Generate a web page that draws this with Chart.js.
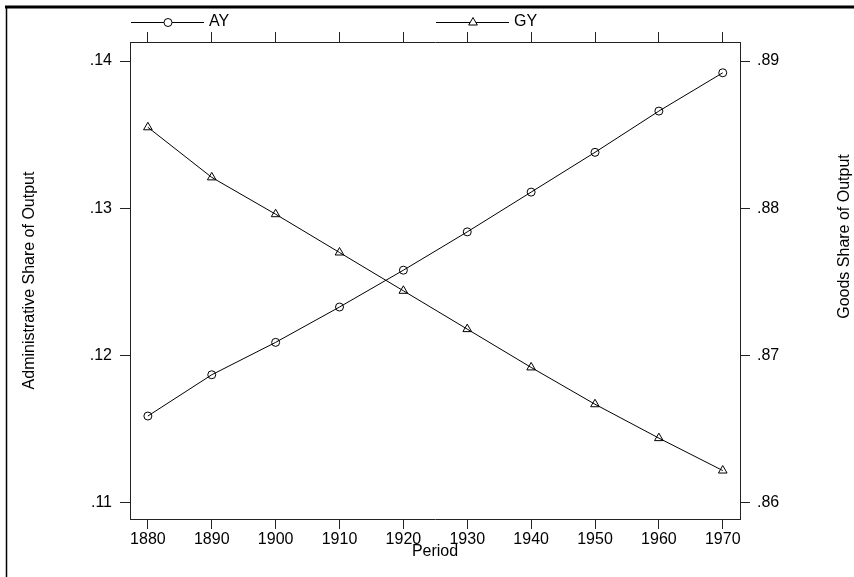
<!DOCTYPE html>
<html>
<head>
<meta charset="utf-8">
<script src="https://cdn.jsdelivr.net/npm/chart.js@4"></script>
<style>
  html, body { margin: 0; padding: 0; background: #fff; }
  #wrap { position: relative; width: 854px; height: 577px; }
</style>
</head>
<body>
<div id="wrap"><canvas id="grafico" width="854" height="577"></canvas></div>
<script>
// datos
const periodos = [1880, 1890, 1900, 1910, 1920, 1930, 1940, 1950, 1960, 1970];
const valoresAY = [0.1159, 0.1187, 0.1209, 0.1233, 0.1258, 0.1284, 0.1311, 0.1338, 0.1366, 0.1392];
const valoresGY = [0.8855, 0.8821, 0.8796, 0.8770, 0.8744, 0.8718, 0.8692, 0.8667, 0.8644, 0.8622];
const ticksIzq = [0.11, 0.12, 0.13, 0.14];
const ticksDer = [0.86, 0.87, 0.88, 0.89];
const ticksX = [1880, 1890, 1900, 1910, 1920, 1930, 1940, 1950, 1960, 1970];
const etiquetas = ["AY", "GY"];
const tituloIzq = "Administrative Share of Output";
const tituloDer = "Goods Share of Output";
const tituloX = "Period";

const fuente = "'Liberation Sans', Arial, Helvetica, sans-serif";
const negro = "#000";
const ejeColor = "#222";

function fmtDec(v) {
    return v.toFixed(2).replace(/^0/, "");
}

function ticksFijos(lista) {
    return function (scale) {
        scale.ticks = lista.map(v => ({ value: v }));
    };
}

const rejilla = {
    drawOnChartArea: false,
    drawTicks: true,
    tickLength: 10,
    color: ejeColor,
    lineWidth: 1
};
const borde = { display: true, color: ejeColor, width: 1 };

// marco, leyenda y títulos de ejes
const extras = {
    id: "extras",
    afterDraw(chart) {
        const ctx = chart.ctx;
        const area = chart.chartArea;
        ctx.save();

        // marco exterior
        ctx.strokeStyle = negro;
        ctx.lineWidth = 3;
        ctx.beginPath();
        ctx.moveTo(5, 7);
        ctx.lineTo(854, 7);
        ctx.stroke();
        ctx.lineWidth = 1.5;
        ctx.beginPath();
        ctx.moveTo(6.5, 6);
        ctx.lineTo(6.5, 577);
        ctx.stroke();

        // leyenda
        const yLeyenda = 22.5;
        const anchoCol = area.width / 2;
        chart.data.datasets.forEach((ds, i) => {
            const x0 = area.left + i * anchoCol + 1;
            ctx.strokeStyle = negro;
            ctx.lineWidth = 1;
            ctx.beginPath();
            ctx.moveTo(x0, yLeyenda);
            ctx.lineTo(x0 + 73, yLeyenda);
            ctx.stroke();
            const cx = x0 + 37;
            ctx.beginPath();
            if (ds.pointStyle === "circle") {
                ctx.arc(cx, yLeyenda, ds.pointRadius, 0, Math.PI * 2);
            } else {
                const r = ds.pointRadius;
                ctx.moveTo(cx, yLeyenda - r);
                ctx.lineTo(cx + r * 0.866, yLeyenda + r / 2);
                ctx.lineTo(cx - r * 0.866, yLeyenda + r / 2);
                ctx.closePath();
            }
            ctx.fillStyle = "#fff";
            ctx.fill();
            ctx.stroke();
            ctx.fillStyle = negro;
            ctx.font = "16px " + fuente;
            ctx.textAlign = "left";
            ctx.textBaseline = "middle";
            ctx.fillText(ds.label, x0 + 78, yLeyenda - 1);
        });

        // títulos
        ctx.fillStyle = negro;
        ctx.font = "16px " + fuente;
        ctx.textAlign = "center";
        ctx.textBaseline = "middle";
        ctx.fillText(tituloX, (area.left + area.right) / 2, 552);

        const yMedio = (area.top + area.bottom) / 2;
        ctx.save();
        ctx.translate(30, yMedio);
        ctx.rotate(-Math.PI / 2);
        ctx.fillText(tituloIzq, 0, 0);
        ctx.restore();

        ctx.save();
        ctx.translate(845, yMedio - 44);
        ctx.rotate(-Math.PI / 2);
        ctx.fillText(tituloDer, 0, 0);
        ctx.restore();

        ctx.restore();
    }
};

const ctx = document.getElementById("grafico").getContext("2d");

new Chart(ctx, {
    type: "line",
    data: {
        datasets: [
            {
                label: etiquetas[0],
                data: periodos.map((p, i) => ({ x: p, y: valoresAY[i] })),
                xAxisID: "x",
                yAxisID: "yIzq",
                borderColor: negro,
                borderWidth: 1,
                pointStyle: "circle",
                pointRadius: 4,
                pointBorderWidth: 1,
                pointBorderColor: negro,
                pointBackgroundColor: "rgba(0,0,0,0)",
                tension: 0,
                fill: false
            },
            {
                label: etiquetas[1],
                data: periodos.map((p, i) => ({ x: p, y: valoresGY[i] })),
                xAxisID: "x",
                yAxisID: "yDer",
                borderColor: negro,
                borderWidth: 1,
                pointStyle: "triangle",
                pointRadius: 5,
                pointBorderWidth: 1,
                pointBorderColor: negro,
                pointBackgroundColor: "rgba(0,0,0,0)",
                tension: 0,
                fill: false
            }
        ]
    },
    options: {
        responsive: false,
        devicePixelRatio: 1,
        animation: false,
        layout: { padding: 0 },
        plugins: {
            legend: { display: false },
            tooltip: { enabled: false }
        },
        scales: {
            x: {
                type: "linear",
                position: "bottom",
                min: 1877.2,
                max: 1972.7,
                afterBuildTicks: ticksFijos(ticksX),
                afterFit(scale) { scale.height = 58; },
                grid: rejilla,
                border: borde,
                ticks: {
                    color: negro,
                    padding: 1,
                    maxRotation: 0,
                    autoSkip: false,
                    font: { family: fuente, size: 16 },
                    callback: v => String(v)
                }
            },
            xArriba: {
                type: "linear",
                position: "top",
                min: 1877.2,
                max: 1972.7,
                afterBuildTicks: ticksFijos(ticksX),
                afterFit(scale) { scale.height = 42; },
                grid: rejilla,
                border: borde,
                ticks: { display: false }
            },
            yIzq: {
                type: "linear",
                position: "left",
                min: 0.10891,
                max: 0.14129,
                afterBuildTicks: ticksFijos(ticksIzq),
                afterFit(scale) { scale.width = 130; },
                grid: rejilla,
                border: borde,
                ticks: {
                    color: negro,
                    padding: 8,
                    font: { family: fuente, size: 16 },
                    callback: v => fmtDec(v)
                }
            },
            yDer: {
                type: "linear",
                position: "right",
                min: 0.85891,
                max: 0.89129,
                afterBuildTicks: ticksFijos(ticksDer),
                afterFit(scale) { scale.width = 114; },
                grid: rejilla,
                border: borde,
                ticks: {
                    color: negro,
                    padding: 7,
                    font: { family: fuente, size: 16 },
                    callback: v => fmtDec(v)
                }
            }
        }
    },
    plugins: [extras]
});
</script>
</body>
</html>
